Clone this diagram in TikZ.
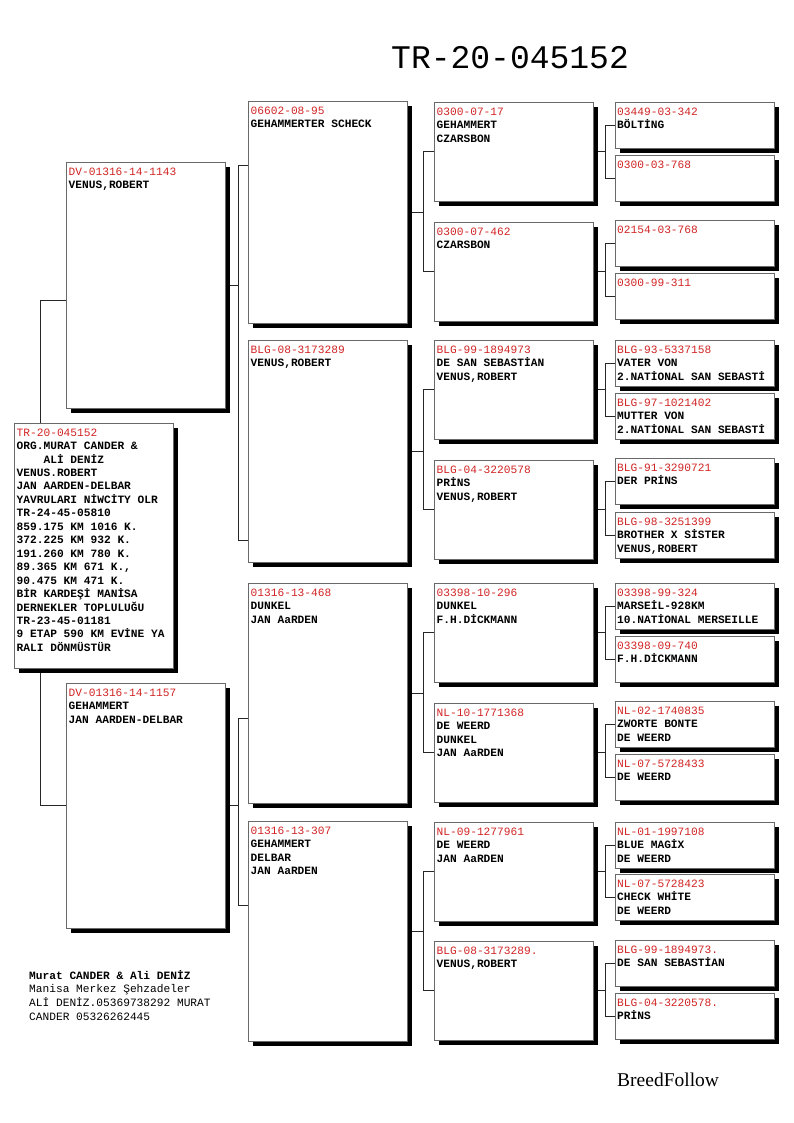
\documentclass[tikz,border=0pt]{standalone}
\usepackage{fontspec}
\setmonofont{Liberation Mono}
\newfontfamily\logofont{Liberation Serif}
\usepackage{xcolor}
\usepackage{tikz}
\usetikzlibrary{positioning, calc, backgrounds}
\definecolor{idred}{RGB}{210, 36, 36}
\definecolor{framegray}{RGB}{105, 105, 105}
\newcommand{\ring}[1]{\textcolor{idred}{\mdseries #1}}

\begin{document}
\begin{tikzpicture}[
    x=1pt, y=-1pt,
    pbox/.style={rectangle, draw=framegray, line width=0.7pt, fill=white, anchor=north west,
        minimum width=159pt, inner sep=0pt, outer sep=0pt,
        preaction={fill=black, transform canvas={xshift=5pt, yshift=-5pt}}},
    ptxt/.style={anchor=north west, align=left, inner sep=0pt,
        font=\fontsize{11.2}{13.45}\selectfont\ttfamily\bfseries},
    link/.style={draw=black!85, line width=0.7pt}
]
    \useasboundingbox (0,0) rectangle (794,1123);

    % Title
    \node[anchor=base west, inner sep=0pt, font=\fontsize{33}{36}\selectfont\ttfamily] (title) at (391,69) {TR-20-045152};

    % Subject
    \node[pbox, minimum height=245pt] (subj) at (14,423) {};
    \node[ptxt] at ([xshift=2.5pt, yshift=-5.5pt]subj.north west) {
        \ring{TR-20-045152}\\
        ORG.MURAT CANDER \&\\
        \hphantom{0000}ALİ DENİZ\\
        VENUS.ROBERT\\
        JAN AARDEN-DELBAR\\
        YAVRULARI NİWCİTY OLR\\
        TR-24-45-05810\\
        859.175 KM 1016 K.\\
        372.225 KM 932 K.\\
        191.260 KM 780 K.\\
        89.365 KM 671 K.,\\
        90.475 KM 471 K.\\
        BİR KARDEŞİ MANİSA\\
        DERNEKLER TOPLULUĞU\\
        TR-23-45-01181\\
        9 ETAP 590 KM EVİNE YA\\
        RALI DÖNMÜSTÜR
    };

    % Parents
    \node[pbox, minimum height=246pt] (sire) at (66,162) {};
    \node[ptxt] at ([xshift=2.5pt, yshift=-5.5pt]sire.north west) {\ring{DV-01316-14-1143}\\VENUS,ROBERT};
    \node[pbox, minimum height=245pt] (dam) at (66,683) {};
    \node[ptxt] at ([xshift=2.5pt, yshift=-5.5pt]dam.north west) {\ring{DV-01316-14-1157}\\GEHAMMERT\\JAN AARDEN-DELBAR};

    % Grandparents
    \node[pbox, minimum height=222pt] (gp1) at (248,101) {};
    \node[ptxt] at ([xshift=2.5pt, yshift=-5.5pt]gp1.north west) {\ring{06602-08-95}\\GEHAMMERTER SCHECK};
    \node[pbox, minimum height=222pt] (gp2) at (248,340) {};
    \node[ptxt] at ([xshift=2.5pt, yshift=-5.5pt]gp2.north west) {\ring{BLG-08-3173289}\\VENUS,ROBERT};
    \node[pbox, minimum height=220pt] (gp3) at (248,583) {};
    \node[ptxt] at ([xshift=2.5pt, yshift=-5.5pt]gp3.north west) {\ring{01316-13-468}\\DUNKEL\\JAN AaRDEN};
    \node[pbox, minimum height=220pt] (gp4) at (248,821) {};
    \node[ptxt] at ([xshift=2.5pt, yshift=-5.5pt]gp4.north west) {\ring{01316-13-307}\\GEHAMMERT\\DELBAR\\JAN AaRDEN};

    % Great-grandparents
    \node[pbox, minimum height=99pt] (ggp1) at (434,102) {};
    \node[ptxt] at ([xshift=2.5pt, yshift=-5.5pt]ggp1.north west) {\ring{0300-07-17}\\GEHAMMERT\\CZARSBON};
    \node[pbox, minimum height=99pt] (ggp2) at (434,222) {};
    \node[ptxt] at ([xshift=2.5pt, yshift=-5.5pt]ggp2.north west) {\ring{0300-07-462}\\CZARSBON};
    \node[pbox, minimum height=99pt] (ggp3) at (434,340) {};
    \node[ptxt] at ([xshift=2.5pt, yshift=-5.5pt]ggp3.north west) {\ring{BLG-99-1894973}\\DE SAN SEBASTİAN\\VENUS,ROBERT};
    \node[pbox, minimum height=99pt] (ggp4) at (434,460) {};
    \node[ptxt] at ([xshift=2.5pt, yshift=-5.5pt]ggp4.north west) {\ring{BLG-04-3220578}\\PRİNS\\VENUS,ROBERT};
    \node[pbox, minimum height=99pt] (ggp5) at (434,583) {};
    \node[ptxt] at ([xshift=2.5pt, yshift=-5.5pt]ggp5.north west) {\ring{03398-10-296}\\DUNKEL\\F.H.DİCKMANN};
    \node[pbox, minimum height=99pt] (ggp6) at (434,703) {};
    \node[ptxt] at ([xshift=2.5pt, yshift=-5.5pt]ggp6.north west) {\ring{NL-10-1771368}\\DE WEERD\\DUNKEL\\JAN AaRDEN};
    \node[pbox, minimum height=99pt] (ggp7) at (434,822) {};
    \node[ptxt] at ([xshift=2.5pt, yshift=-5.5pt]ggp7.north west) {\ring{NL-09-1277961}\\DE WEERD\\JAN AaRDEN};
    \node[pbox, minimum height=99pt] (ggp8) at (434,941) {};
    \node[ptxt] at ([xshift=2.5pt, yshift=-5.5pt]ggp8.north west) {\ring{BLG-08-3173289.}\\VENUS,ROBERT};

    % Great-great-grandparents
    \node[pbox, minimum height=46pt] (g1) at (615,102) {};
    \node[ptxt] at ([xshift=2pt, yshift=-5.5pt]g1.north west) {\ring{03449-03-342}\\BÖLTİNG};
    \node[pbox, minimum height=46pt] (g2) at (615,155) {};
    \node[ptxt] at ([xshift=2pt, yshift=-5.5pt]g2.north west) {\ring{0300-03-768}};
    \node[pbox, minimum height=46pt] (g3) at (615,220) {};
    \node[ptxt] at ([xshift=2pt, yshift=-5.5pt]g3.north west) {\ring{02154-03-768}};
    \node[pbox, minimum height=46pt] (g4) at (615,273) {};
    \node[ptxt] at ([xshift=2pt, yshift=-5.5pt]g4.north west) {\ring{0300-99-311}};
    \node[pbox, minimum height=46pt] (g5) at (615,340) {};
    \node[ptxt] at ([xshift=2pt, yshift=-5.5pt]g5.north west) {\ring{BLG-93-5337158}\\VATER VON\\2.NATİONAL SAN SEBASTİ};
    \node[pbox, minimum height=46pt] (g6) at (615,393) {};
    \node[ptxt] at ([xshift=2pt, yshift=-5.5pt]g6.north west) {\ring{BLG-97-1021402}\\MUTTER VON\\2.NATİONAL SAN SEBASTİ};
    \node[pbox, minimum height=46pt] (g7) at (615,458) {};
    \node[ptxt] at ([xshift=2pt, yshift=-5.5pt]g7.north west) {\ring{BLG-91-3290721}\\DER PRİNS};
    \node[pbox, minimum height=46pt] (g8) at (615,512) {};
    \node[ptxt] at ([xshift=2pt, yshift=-5.5pt]g8.north west) {\ring{BLG-98-3251399}\\BROTHER X SİSTER\\VENUS,ROBERT};
    \node[pbox, minimum height=46pt] (g9) at (615,583) {};
    \node[ptxt] at ([xshift=2pt, yshift=-5.5pt]g9.north west) {\ring{03398-99-324}\\MARSEİL-928KM\\10.NATİONAL MERSEILLE};
    \node[pbox, minimum height=46pt] (g10) at (615,636) {};
    \node[ptxt] at ([xshift=2pt, yshift=-5.5pt]g10.north west) {\ring{03398-09-740}\\F.H.DİCKMANN};
    \node[pbox, minimum height=46pt] (g11) at (615,701) {};
    \node[ptxt] at ([xshift=2pt, yshift=-5.5pt]g11.north west) {\ring{NL-02-1740835}\\ZWORTE BONTE\\DE WEERD};
    \node[pbox, minimum height=46pt] (g12) at (615,754) {};
    \node[ptxt] at ([xshift=2pt, yshift=-5.5pt]g12.north west) {\ring{NL-07-5728433}\\DE WEERD};
    \node[pbox, minimum height=46pt] (g13) at (615,822) {};
    \node[ptxt] at ([xshift=2pt, yshift=-5.5pt]g13.north west) {\ring{NL-01-1997108}\\BLUE MAGİX\\DE WEERD};
    \node[pbox, minimum height=46pt] (g14) at (615,874) {};
    \node[ptxt] at ([xshift=2pt, yshift=-5.5pt]g14.north west) {\ring{NL-07-5728423}\\CHECK WHİTE\\DE WEERD};
    \node[pbox, minimum height=46pt] (g15) at (615,940) {};
    \node[ptxt] at ([xshift=2pt, yshift=-5.5pt]g15.north west) {\ring{BLG-99-1894973.}\\DE SAN SEBASTİAN};
    \node[pbox, minimum height=46pt] (g16) at (615,993) {};
    \node[ptxt] at ([xshift=2pt, yshift=-5.5pt]g16.north west) {\ring{BLG-04-3220578.}\\PRİNS};

    % Lines
    \begin{scope}[on background layer]
        \draw[link] ([yshift=-138pt]sire.north west) -- ++(-26pt,0) |- (dam.west);
        \draw[link] (sire.east) -- ++(13pt,0);
        \draw[link] ([yshift=-64pt]gp1.north west) -- ++(-10pt,0) |- ([yshift=-200pt]gp2.north west);
        \draw[link] (dam.east) -- ++(13pt,0);
        \draw[link] ([yshift=-135pt]gp3.north west) -- ++(-10pt,0) |- ([yshift=-84pt]gp4.north west);
        \draw[link] (gp1.east) -- ++(16pt,0);
        \draw[link] (ggp1.west) -- ++(-11pt,0) |- (ggp2.west);
        \draw[link] (gp2.east) -- ++(16pt,0);
        \draw[link] (ggp3.west) -- ++(-11pt,0) |- (ggp4.west);
        \draw[link] (gp3.east) -- ++(16pt,0);
        \draw[link] (ggp5.west) -- ++(-11pt,0) |- (ggp6.west);
        \draw[link] (gp4.east) -- ++(16pt,0);
        \draw[link] (ggp7.west) -- ++(-11pt,0) |- (ggp8.west);
        \draw[link] (ggp1.east) -- ++(12pt,0);
        \draw[link] (g1.west) -- ++(-10pt,0) |- (g2.west);
        \draw[link] (ggp2.east) -- ++(12pt,0);
        \draw[link] (g3.west) -- ++(-10pt,0) |- (g4.west);
        \draw[link] (ggp3.east) -- ++(12pt,0);
        \draw[link] (g5.west) -- ++(-10pt,0) |- (g6.west);
        \draw[link] (ggp4.east) -- ++(12pt,0);
        \draw[link] (g7.west) -- ++(-10pt,0) |- (g8.west);
        \draw[link] (ggp5.east) -- ++(12pt,0);
        \draw[link] (g9.west) -- ++(-10pt,0) |- (g10.west);
        \draw[link] (ggp6.east) -- ++(12pt,0);
        \draw[link] (g11.west) -- ++(-10pt,0) |- (g12.west);
        \draw[link] (ggp7.east) -- ++(12pt,0);
        \draw[link] (g13.west) -- ++(-10pt,0) |- (g14.west);
        \draw[link] (ggp8.east) -- ++(12pt,0);
        \draw[link] (g15.west) -- ++(-10pt,0) |- (g16.west);
    \end{scope}

    % Breeder
    \node[anchor=north west, align=left, inner sep=0pt, font=\fontsize{11.2}{13.8}\selectfont\ttfamily] (breeder) at (29,970) {
        \textbf{Murat CANDER \& Ali DENİZ}\\
        Manisa Merkez Şehzadeler\\
        ALİ DENİZ.05369738292 MURAT\\
        CANDER 05326262445
    };
    \node[anchor=base west, inner sep=0pt, font=\fontsize{19.5}{22}\selectfont\logofont] (logo) at (617,1086) {BreedFollow};
\end{tikzpicture}
\end{document}
